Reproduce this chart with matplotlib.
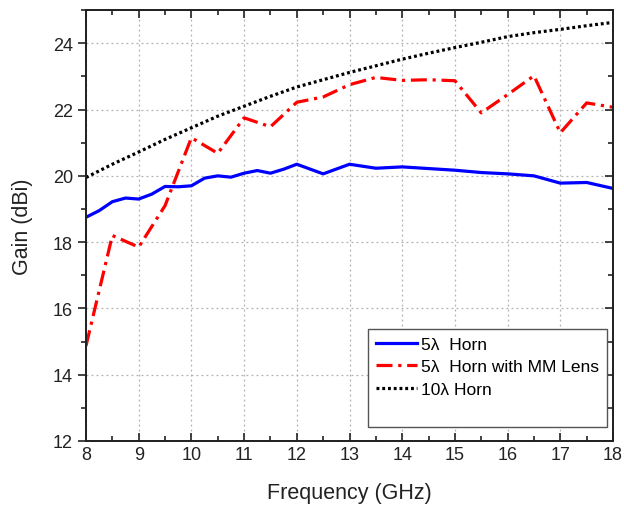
import matplotlib
matplotlib.use('Agg')
import matplotlib.pyplot as plt
from matplotlib.lines import Line2D
from matplotlib.ticker import MultipleLocator

plt.rcParams['font.family'] = ['Liberation Sans', 'DejaVu Sans']

# 5 lambda horn (0.25 GHz steps up to 12, then 0.5 GHz)
f_horn = [8.0, 8.25, 8.5, 8.75, 9.0, 9.25, 9.5, 9.75, 10.0, 10.25, 10.5, 10.75,
          11.0, 11.25, 11.5, 11.75, 12.0, 12.5, 13.0, 13.5, 14.0, 14.5, 15.0,
          15.5, 16.0, 16.5, 17.0, 17.5, 18.0]
g_horn = [18.75, 18.95, 19.22, 19.33, 19.3, 19.45, 19.68, 19.67, 19.7, 19.93,
          20.0, 19.96, 20.08, 20.16, 20.08, 20.2, 20.35, 20.06, 20.35, 20.23,
          20.27, 20.22, 20.17, 20.1, 20.06, 20.0, 19.78, 19.8, 19.62]

# 5 lambda horn with metamaterial lens
f_lens = [8.0, 8.5, 9.0, 9.5, 10.0, 10.5, 11.0, 11.5, 12.0, 12.5, 13.0, 13.5,
          14.0, 14.5, 15.0, 15.5, 16.0, 16.5, 17.0, 17.5, 18.0]
g_lens = [14.87, 18.2, 17.85, 19.1, 21.15, 20.68, 21.75, 21.48, 22.22, 22.38,
          22.75, 22.97, 22.88, 22.9, 22.87, 21.9, 22.45, 23.02, 21.3, 22.2, 22.07]

# 10 lambda horn
f_big = [8.0, 8.5, 9.0, 9.5, 10.0, 10.5, 11.0, 11.5, 12.0, 12.5, 13.0, 13.5,
         14.0, 14.5, 15.0, 15.5, 16.0, 16.5, 17.0, 17.5, 18.0]
g_big = [19.95, 20.35, 20.72, 21.1, 21.45, 21.8, 22.1, 22.4, 22.68, 22.9, 23.12,
         23.32, 23.52, 23.7, 23.87, 24.03, 24.2, 24.32, 24.42, 24.53, 24.63]

fig = plt.figure(figsize=(6.24, 5.06), dpi=100)
ax = fig.add_axes([0.1378, 0.1265, 0.8446, 0.8515])

ax.plot(f_horn, g_horn, color='#0000ff', lw=2.3, label=u'5\u03bb  Horn')
ax.plot(f_lens, g_lens, color='#ff0000', lw=2.3, linestyle=(0, (5, 1.8, 1, 1.8)),
        label=u'5\u03bb  Horn with MM Lens')
ax.plot(f_big, g_big, color='black', lw=2.3, linestyle=(0, (0.9, 0.9)),
        label=u'10\u03bb Horn')

ax.set_xlim(8, 18)
ax.set_ylim(12, 25)
ax.xaxis.set_major_locator(MultipleLocator(1))
ax.xaxis.set_minor_locator(MultipleLocator(0.5))
ax.yaxis.set_major_locator(MultipleLocator(2))
ax.yaxis.set_minor_locator(MultipleLocator(1))

ax.grid(True, which='major', color='#b0b0b0', linestyle=(0, (1.5, 2.5)), lw=0.9)

ax.tick_params(axis='x', which='both', direction='in', top=True, labelsize=13,
               width=1.2, colors='#222222')
ax.tick_params(axis='x', which='major', length=6)
ax.tick_params(axis='x', which='minor', length=3.5)
ax.tick_params(axis='y', which='both', direction='out', labelsize=13,
               width=1.2, colors='#222222')
ax.tick_params(axis='y', which='major', length=6)
ax.tick_params(axis='y', which='minor', length=3.5)
# right axis with inward ticks
ax2 = ax.twinx()
ax2.set_ylim(12, 25)
ax2.yaxis.set_major_locator(MultipleLocator(2))
ax2.yaxis.set_minor_locator(MultipleLocator(1))
ax2.tick_params(axis='y', which='both', direction='in', labelright=False,
                width=1.2, colors='#222222')
ax2.tick_params(axis='y', which='major', length=6)
ax2.tick_params(axis='y', which='minor', length=3.5)

for a in (ax, ax2):
    for s in a.spines.values():
        s.set_linewidth(1.3)
        s.set_color('#222222')

ax.set_xlabel('Frequency (GHz)', fontsize=15.5, color='#222222', labelpad=14)
ax.set_ylabel('Gain (dBi)', fontsize=15.5, color='#222222', labelpad=14)

# blank last row leaves the empty space at the bottom of the box
handles, labels = ax.get_legend_handles_labels()
handles.append(Line2D([], [], color='none'))
labels.append(' ')
leg = ax2.legend(handles, labels, loc='upper left',
                 bbox_to_anchor=(368 / 624, 1 - 330 / 506),
                 bbox_transform=fig.transFigure,
                 fontsize=12.5, handlelength=2.4, handletextpad=0.2,
                 borderpad=0.45, labelspacing=0.42, fancybox=False,
                 framealpha=1, borderaxespad=0.0)
leg.get_frame().set_edgecolor('#555555')
leg.get_frame().set_linewidth(1.0)

fig.savefig('out.png', dpi=100)
